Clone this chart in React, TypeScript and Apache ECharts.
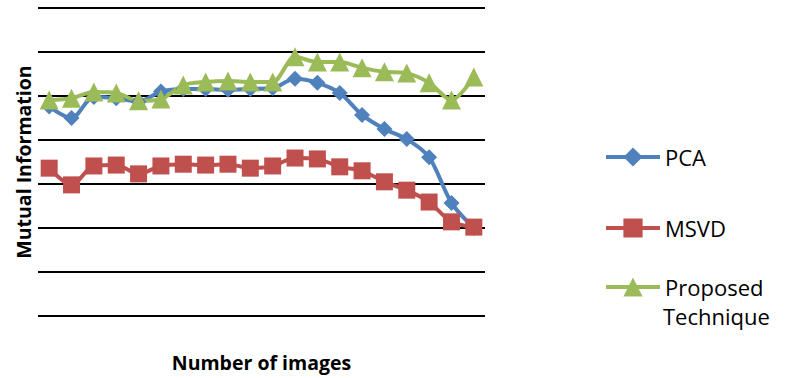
import React, { useEffect, useRef } from "react";
import * as echarts from "echarts";

const categories = ["1","2","3","4","5","6","7","8","9","10","11","12","13","14","15","16","17","18","19","20"];
const pcaValues = [4.76, 4.5, 4.98, 4.95, 4.87, 5.1, 5.16, 5.16, 5.14, 5.16, 5.18, 5.39, 5.3, 5.07, 4.57, 4.25, 4.02, 3.61, 2.57, 2.0];
const msvdValues = [3.36, 2.98, 3.41, 3.43, 3.23, 3.41, 3.45, 3.43, 3.45, 3.36, 3.41, 3.59, 3.57, 3.39, 3.3, 3.05, 2.86, 2.59, 2.14, 2.02];
const proposedValues = [4.91, 4.95, 5.09, 5.07, 4.89, 4.93, 5.25, 5.32, 5.34, 5.32, 5.32, 5.89, 5.77, 5.77, 5.64, 5.55, 5.52, 5.3, 4.91, 5.43];
const seriesNames = ["PCA", "MSVD", "Proposed Technique"];

const FONT = "'Open Sans', sans-serif";

export default function App() {
  const ref = useRef<HTMLDivElement>(null);
  useEffect(() => {
    if (!ref.current) return;
    const chart = echarts.init(ref.current, null, { renderer: "svg" });
    const mk = (name: string, data: number[], color: string, symbol: string, size: number) => ({
      name,
      type: "line",
      data,
      smooth: 0.3,
      symbol,
      symbolSize: size,
      showSymbol: true,
      showAllSymbol: true,
      lineStyle: { color, width: 4 },
      itemStyle: { color },
    });
    const legendBase = {
      orient: "vertical",
      left: 604,
      padding: 0,
      itemGap: 0,
      itemWidth: 54,
      itemHeight: 24,
      lineStyle: { width: 4 },
      textStyle: { fontFamily: FONT, fontSize: 22, color: "#000", lineHeight: 26, padding: [0, 0, 0, 0] },
    };
    chart.setOption({
      animation: false,
      grid: { left: 38, right: 300, top: 8, bottom: 62, outerBoundsMode: "none", containLabel: false },
      legend: [
        { ...legendBase, top: 144, data: [seriesNames[0]] },
        { ...legendBase, top: 215, data: [seriesNames[1]] },
        { ...legendBase, top: 274, data: [seriesNames[2]], formatter: () => "Proposed" },
      ],
      graphic: [
        {
          type: "text",
          left: 663,
          top: 305,
          style: { text: "Technique", font: `22px ${FONT}`, fill: "#000" },
        },
      ],
      xAxis: {
        type: "category",
        data: categories,
        boundaryGap: true,
        axisLine: { show: false },
        axisTick: { show: false },
        axisLabel: { show: false },
        name: "Number of images",
        nameLocation: "middle",
        nameGap: 36,
        nameTextStyle: { fontFamily: FONT, fontSize: 19.5, fontWeight: "bold", color: "#000" },
      },
      yAxis: {
        type: "value",
        min: 0,
        max: 7,
        interval: 1,
        axisLine: { show: false },
        axisTick: { show: false },
        axisLabel: { show: false },
        splitLine: { show: true, lineStyle: { color: "#000", width: 2 } },
        name: "Mutual Information",
        nameLocation: "middle",
        nameGap: 5,
        nameRotate: 90,
        nameTextStyle: { fontFamily: FONT, fontSize: 19.5, fontWeight: "bold", color: "#000" },
      },
      series: [
        mk(seriesNames[0], pcaValues, "#4F81BD", "diamond", 16),
        mk(seriesNames[1], msvdValues, "#C0504D", "rect", 17),
        mk(seriesNames[2], proposedValues, "#9BBB59", "triangle", 19),
      ],
    });
    return () => chart.dispose();
  }, []);
  return <div ref={ref} style={{ width: 785, height: 378, position: "absolute", left: 0, top: 0 }} />;
}
